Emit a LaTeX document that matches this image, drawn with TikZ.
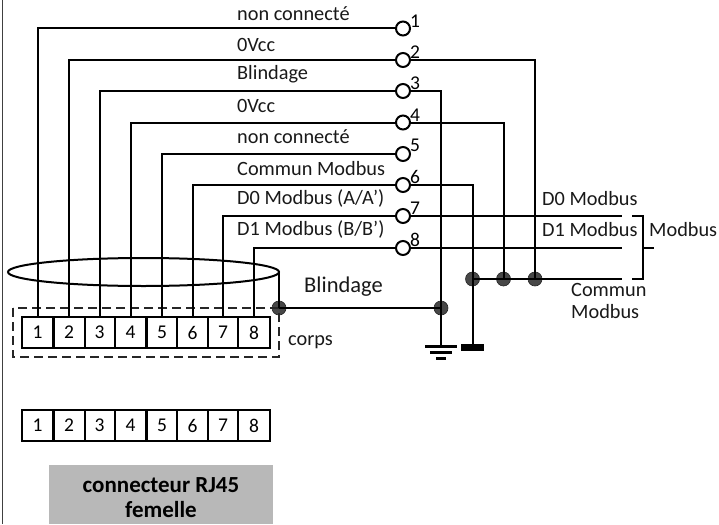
\documentclass[tikz,border=0pt]{standalone}
\usepackage{fontspec}
\setmainfont{Carlito}
\tikzset{
  wire/.style={line width=2pt,black},
  pinbox/.style={draw=black,line width=2pt,fill=white,minimum height=31pt,inner sep=0pt,font=\fontsize{19.5}{20}\selectfont},
  termcircle/.style={circle,draw=black,line width=2pt,fill=white,minimum size=14pt,inner sep=0pt},
  junction/.style={circle,fill=black!72,draw=black!85,line width=.6pt,minimum size=14pt,inner sep=0pt},
  lbl/.style={font=\fontsize{20.3}{24}\selectfont,inner sep=0pt,anchor=west,text=black!90},
  pinnum/.style={font=\fontsize{19.5}{20}\selectfont,inner sep=0pt},
}
\begin{document}
\begin{tikzpicture}[x=1pt,y=-1pt]
\useasboundingbox (0,0) rectangle (719,524);
\clip (0,0) rectangle (719,524);
\fill[white] (0,0) rectangle (719,524);
\coordinate (bordertop) at (2.5,0);
\coordinate (borderbot) at (2.5,524);
\draw[line width=1.5pt,black!75] (bordertop) -- (borderbot);
% junctions
\node[junction] (jshield) at (279,308) {};
\node[junction] (jgnd) at (441,308) {};
\node[junction] (jc) at (472.5,279) {};
\node[junction] (jb) at (503.5,279) {};
\node[junction] (ja) at (535,279) {};
% shield ellipse and body
\coordinate (elE) at (279,272);
\draw[wire] (143.5,272) ellipse [x radius=135.5,y radius=14];
\draw[line width=1.1pt,dash pattern=on 9pt off 5pt,black!85] (13,308) rectangle (279,357);
% pins row 1
\foreach \n/\c/\w in {1/37.5/31,2/69/31,3/99.5/30,4/130.5/31,5/162/31,6/192.5/31,7/223/30,8/254/32}{
  \node[pinbox,minimum width=\w pt] (a\n) at (\c,332.5) {\n};
  \node[pinbox,minimum width=\w pt] (b\n) at (\c,425.5) {\n};
}
% terminals
\foreach \n/\y in {1/28.5,2/60,3/91,4/122.5,5/154,6/185,7/216,8/248}{
  \node[termcircle] (t\n) at (403,\y) {};
}
\foreach \n/\y in {1/21,2/52,3/83,4/115,5/145,6/177,7/208,8/240}{
  \node[pinnum] (tn\n) at (415,\y) {\n};
}
% wires to pins
\foreach \n in {1,...,8}{
  \draw[wire] (t\n.west) -| (a\n.north);
}
% right side wires
\coordinate (b7) at (622,216);
\coordinate (b8) at (622,248);
\coordinate (bus) at (622,279);
\draw[wire] (t2.east) -| (ja.center);
\draw[wire] (t4.east) -| (jb.center);
\draw[wire] (t6.east) -| (jc.center);
\draw[wire] (t3.east) -| (jgnd.center);
\draw[wire] (t7.east) -- (b7);
\draw[wire] (t8.east) -- (b8);
\draw[wire] (jc.center) -- (bus);
\draw[wire] (jshield.center) -- (jgnd.center);
\draw[wire] (elE) -- (jshield.center);
% grounds
\coordinate (g1) at (441,346);
\coordinate (g2) at (472.5,346);
\draw[wire] (jgnd.center) -- (g1);
\draw[wire] (jc.center) -- (g2);
\draw[line width=3pt] (425,346) -- (457,346);
\draw[line width=3pt] (430,352.5) -- (452,352.5);
\draw[line width=3pt] (436,358.5) -- (446,358.5);
\fill[black] (461,344) rectangle (484,351);
% bracket
\coordinate (br1) at (632,216);
\coordinate (br2) at (632,279);
\coordinate (brs) at (643,248);
\coordinate (bre) at (654,248);
\draw[wire] (br1) -- (643,216) -- (643,279) -- (br2);
\draw[wire] (brs) -- (bre);
% labels
\node[lbl] (l1) at (237,14) {non connecté};
\node[lbl] (l2) at (237,45) {0Vcc};
\node[lbl] (l3) at (237,74) {Blindage};
\node[lbl] (l4) at (237,106) {0Vcc};
\node[lbl] (l5) at (237,137) {non connecté};
\node[lbl] (l6) at (237,168.5) {Commun Modbus};
\node[lbl] (l7) at (237,198.5) {D0 Modbus (A/A')};
\node[lbl] (l8) at (237,229.5) {D1 Modbus (B/B')};
\node[lbl] (r1) at (542,199) {D0 Modbus};
\node[lbl] (r2) at (542,230) {D1 Modbus};
\node[lbl] (r3) at (649,230) {Modbus};
\node[lbl] (r4) at (571,290) {Commun};
\node[lbl] (r5) at (571,312) {Modbus};
\node[lbl,font=\fontsize{22.5}{26}\selectfont] (sh) at (304,287) {Blindage};
\node[lbl] (co) at (288,342) {corps};
% title box
\fill[black!28] (49,465) rectangle (273,524);
\node[inner sep=0pt,align=center,font=\fontsize{23}{24.5}\selectfont\bfseries] (title) at (161,497.5) {connecteur RJ45\\femelle};
\end{tikzpicture}
\end{document}
